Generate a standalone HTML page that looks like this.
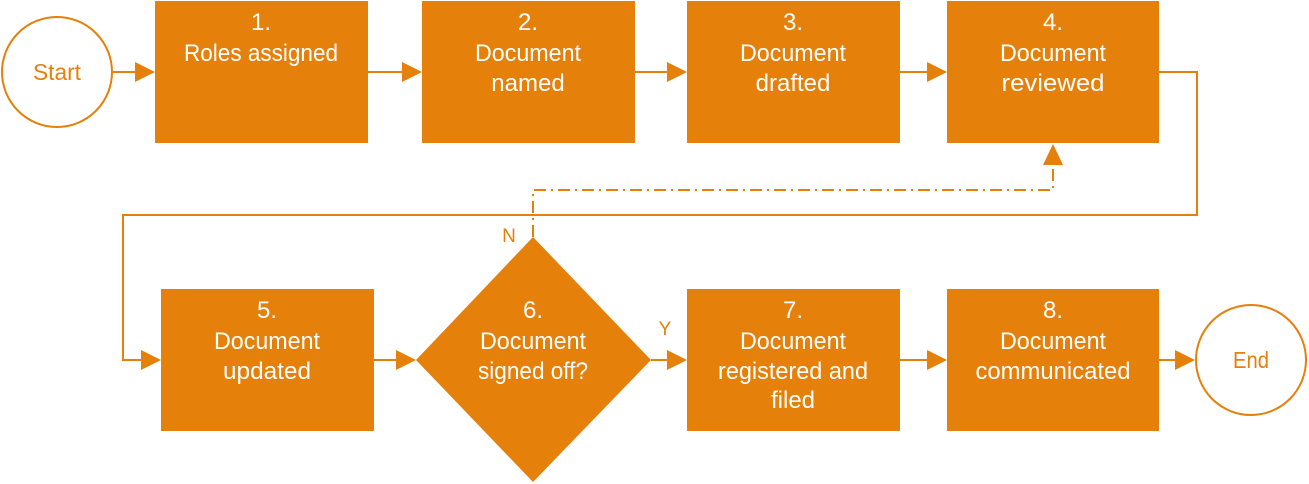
<!DOCTYPE html>
<html><head><meta charset="utf-8"><style>
body{margin:0;background:#fff;}
svg{display:block;font-family:"Liberation Sans",sans-serif;}
</style></head><body>
<svg width="1309" height="484" viewBox="0 0 1309 484" xmlns="http://www.w3.org/2000/svg">
<g fill="#e5800b">
<rect x="155" y="1" width="213" height="142"/>
<rect x="422" y="1" width="213" height="142"/>
<rect x="687" y="1" width="213" height="142"/>
<rect x="947" y="1" width="212" height="142"/>
<rect x="161" y="289" width="213" height="142"/>
<polygon points="533,237 651,360 533,482 416,360"/>
<rect x="687" y="289" width="213" height="142"/>
<rect x="947" y="289" width="212" height="142"/>
</g>
<g fill="none" stroke="#e5800b" stroke-width="2">
<circle cx="57" cy="72" r="55"/>
<circle cx="1251" cy="360" r="55"/>
<line x1="113" y1="72" x2="136" y2="72"/>
<line x1="368" y1="72" x2="403" y2="72"/>
<line x1="635" y1="72" x2="668" y2="72"/>
<line x1="900" y1="72" x2="928" y2="72"/>
<polyline points="1159,72 1197,72 1197,215 123,215 123,360 142,360"/>
<line x1="374" y1="360" x2="397" y2="360"/>
<line x1="651" y1="360" x2="668" y2="360"/>
<line x1="900" y1="360" x2="928" y2="360"/>
<line x1="1159" y1="360" x2="1176" y2="360"/>
<polyline points="533,237 533,190 1053,190 1053,166" stroke-dasharray="12,5,2,5"/>
</g>
<g fill="#e5800b">
<polygon points="135,62 155,72 135,82"/>
<polygon points="402,62 422,72 402,82"/>
<polygon points="667,62 687,72 667,82"/>
<polygon points="927,62 947,72 927,82"/>
<polygon points="141,350 161,360 141,370"/>
<polygon points="396,350 416,360 396,370"/>
<polygon points="667,350 687,360 667,370"/>
<polygon points="927,350 947,360 927,370"/>
<polygon points="1175,350 1195,360 1175,370"/>
<polygon points="1043,165 1053,144 1063,165"/>
</g>
<g fill="#e5800b" font-size="23" text-anchor="middle">
<text x="57" y="80" textLength="48" lengthAdjust="spacingAndGlyphs">Start</text>
<text x="1251" y="368" textLength="36" lengthAdjust="spacingAndGlyphs">End</text>
<text x="509" y="242" font-size="19">N</text>
<text x="665" y="335" font-size="19">Y</text>
</g>
<g fill="#fff" font-size="24" text-anchor="middle" lengthAdjust="spacingAndGlyphs">
<text x="261" y="30">1.</text><text x="261" y="61" textLength="154" lengthAdjust="spacingAndGlyphs">Roles assigned</text>
<text x="528" y="30">2.</text><text x="528" y="61" textLength="106" lengthAdjust="spacingAndGlyphs">Document</text><text x="528" y="91">named</text>
<text x="793" y="30">3.</text><text x="793" y="61" textLength="106" lengthAdjust="spacingAndGlyphs">Document</text><text x="793" y="91">drafted</text>
<text x="1053" y="30">4.</text><text x="1053" y="61" textLength="106" lengthAdjust="spacingAndGlyphs">Document</text><text x="1053" y="91" textLength="103" lengthAdjust="spacingAndGlyphs">reviewed</text>
<text x="267" y="318">5.</text><text x="267" y="349" textLength="106" lengthAdjust="spacingAndGlyphs">Document</text><text x="267" y="379" textLength="88" lengthAdjust="spacingAndGlyphs">updated</text>
<text x="533" y="318">6.</text><text x="533" y="349" textLength="106" lengthAdjust="spacingAndGlyphs">Document</text><text x="533" y="379" textLength="110" lengthAdjust="spacingAndGlyphs">signed off?</text>
<text x="793" y="318">7.</text><text x="793" y="349" textLength="106" lengthAdjust="spacingAndGlyphs">Document</text><text x="793" y="379" textLength="150" lengthAdjust="spacingAndGlyphs">registered and</text><text x="793" y="408">filed</text>
<text x="1053" y="318">8.</text><text x="1053" y="349" textLength="106" lengthAdjust="spacingAndGlyphs">Document</text><text x="1053" y="379" textLength="155" lengthAdjust="spacingAndGlyphs">communicated</text>
</g>
</svg>
</body></html>
